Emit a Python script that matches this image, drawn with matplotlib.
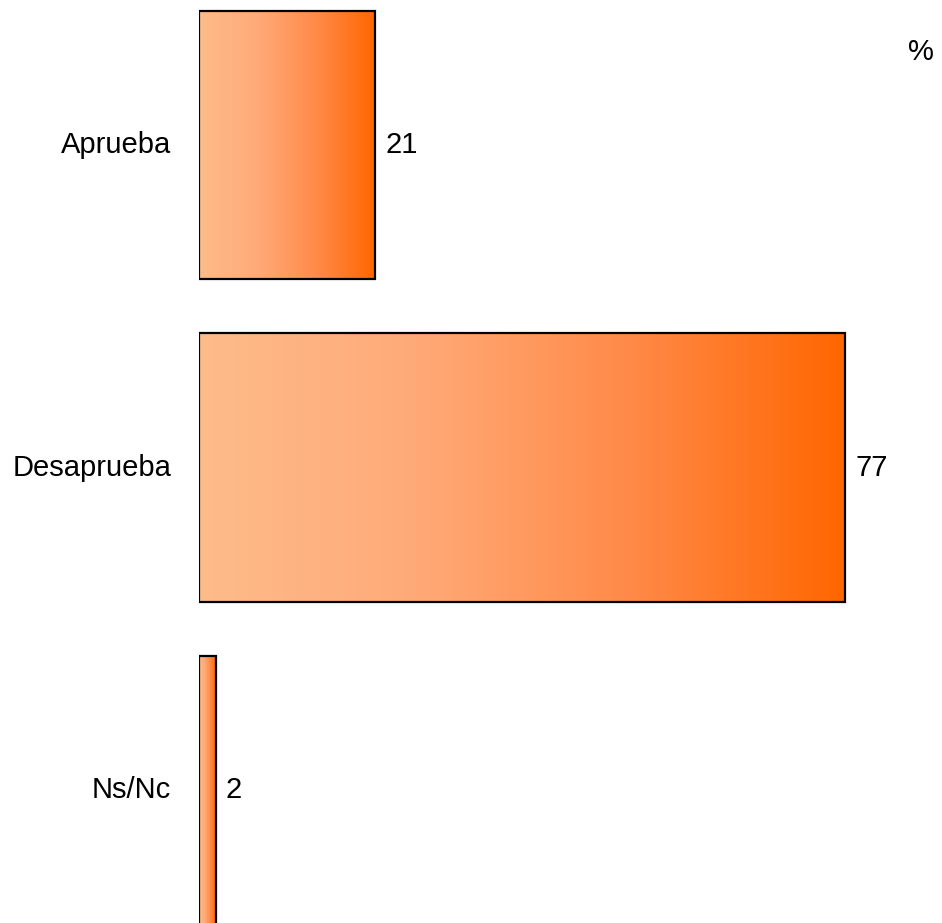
import matplotlib
matplotlib.use("Agg")
import matplotlib.pyplot as plt
import numpy as np
from matplotlib.colors import LinearSegmentedColormap
from matplotlib.patches import Rectangle

categories = ["Aprueba", "Desaprueba", "Ns/Nc"]
values = [21, 77, 2]
value_labels = ["21", "77", "2"]

FONT = ["Liberation Sans Narrow", "Liberation Sans", "DejaVu Sans"]

fig = plt.figure(figsize=(9.42, 9.23), dpi=100)
W, H = 942, 923
ax = fig.add_axes([199 / W, 0, 1 - 199 / W, 1])
ax.set_xlim(0, (W - 199) / 8.39)
ax.set_ylim(2.412, -145 / 322)
ax.axis("off")

cmap = LinearSegmentedColormap.from_list("g", ["#FDBC8A", "#FFAA78", "#FF8A48", "#FF6600"])
grad = np.linspace(0, 1, 256).reshape(1, -1)
h = 268 / 322
for i, (c, v, lab) in enumerate(zip(categories, values, value_labels)):
    im = ax.imshow(grad, cmap=cmap, aspect="auto",
                   extent=[0, v, i + h / 2, i - h / 2], zorder=1)
    rect = Rectangle((0, i - h / 2), v, h, facecolor="none",
                     edgecolor="black", linewidth=1.6, zorder=2)
    ax.add_patch(rect)
    im.set_clip_path(rect)
    ax.text(v + 1.2, i, lab, ha="left", va="center", fontsize=21,
            family=FONT, color="black")
    ax.text(-3.3, i, c, ha="right", va="center", fontsize=21,
            family=FONT, color="black", clip_on=False)

ax.set_xlim(0, (W - 199) / 8.39)
ax.set_ylim(2.412, -145 / 322)
fig.text(921 / W, 1 - 52 / H, "%", ha="center", va="center", fontsize=21,
         family=FONT, color="black")

fig.savefig("out.png", dpi=100)
